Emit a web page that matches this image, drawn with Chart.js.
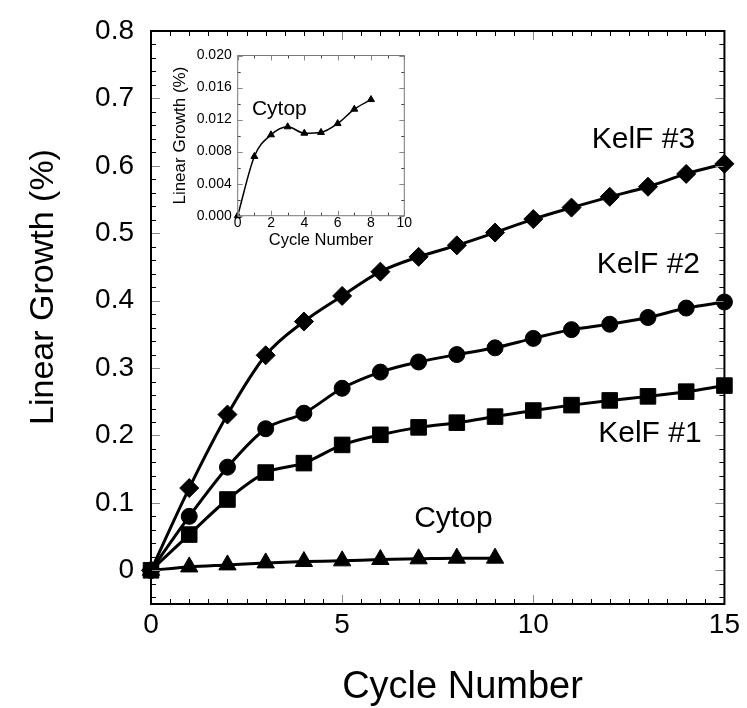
<!DOCTYPE html>
<html><head><meta charset="utf-8">
<script src="https://cdn.jsdelivr.net/npm/chart.js@4/dist/chart.umd.min.js"></script>
<style>
html,body{margin:0;padding:0;background:#fff;}
#wrap{position:relative;width:747px;height:708px;overflow:hidden;}
#main{position:absolute;left:0;top:0;}
#inset{position:absolute;left:160px;top:42px;}
</style></head><body>
<div id="wrap"><canvas id="main" width="747" height="708"></canvas><canvas id="inset" width="256" height="210"></canvas></div>
<script>
// ---------- data ----------
const cycles = [0,1,2,3,4,5,6,7,8,9,10,11,12,13,14,15];
const kelf3 = [0,0.122,0.231,0.319,0.369,0.407,0.443,0.465,0.482,0.501,0.521,0.538,0.554,0.569,0.588,0.603];
const kelf2 = [0,0.080,0.153,0.210,0.233,0.270,0.294,0.309,0.320,0.330,0.344,0.357,0.365,0.375,0.389,0.398];
const kelf1 = [0,0.053,0.105,0.145,0.159,0.186,0.201,0.212,0.219,0.228,0.237,0.245,0.252,0.258,0.265,0.274];
const cytopCycles = [0,1,2,3,4,5,6,7,8,9];
const cytop = [0,0.005,0.008,0.011,0.013,0.014,0.016,0.017,0.018,0.018];
const insetCycles = [0,1,2,3,4,5,6,7,8];
const insetCytop = [0,0.0074,0.0101,0.0111,0.0103,0.0104,0.0115,0.0133,0.0145];
const seriesNames = ['KelF #3','KelF #2','KelF #1','Cytop'];

const xTicks = [0,5,10,15];
const xTickLabels = ['0','5','10','15'];
const yTicks = [0,0.1,0.2,0.3,0.4,0.5,0.6,0.7,0.8];
const yTickLabels = ['0','0.1','0.2','0.3','0.4','0.5','0.6','0.7','0.8'];
const insetXTicks = [0,2,4,6,8,10];
const insetXTickLabels = ['0','2','4','6','8','10'];
const insetYTicks = [0,0.004,0.008,0.012,0.016,0.020];
const insetYTickLabels = ['0.000','0.004','0.008','0.012','0.016','0.020'];

const xTitle = 'Cycle Number';
const yTitle = 'Linear Growth (%)';

// ---------- helpers ----------
const FONT = '"Liberation Sans", Arial, Helvetica, sans-serif';
Chart.defaults.font.family = FONT;
Chart.defaults.color = '#000';

function minorList(min, max, step, majors) {
  const out = [];
  const n = Math.round((max - min) / step);
  for (let i = 0; i <= n; i++) {
    const v = +(min + i * step).toFixed(6);
    if (!majors.some(m => Math.abs(m - v) < 1e-9)) out.push(v);
  }
  return out;
}

const frameTicks = {
  id: 'frameTicks',
  afterDatasetsDraw(chart, args, o) {
    const {ctx, chartArea: a, scales: {x, y}} = chart;
    ctx.save();
    ctx.lineCap = 'butt';
    const seg = (x1, y1, x2, y2) => { ctx.beginPath(); ctx.moveTo(x1, y1); ctx.lineTo(x2, y2); ctx.stroke(); };
    const drawX = (vals, len, color, w) => {
      ctx.strokeStyle = color; ctx.lineWidth = w;
      vals.forEach(v => { const p = Math.round(x.getPixelForValue(v)) + 0.5;
        seg(p, a.bottom, p, a.bottom - len); seg(p, a.top, p, a.top + len); });
    };
    const drawY = (vals, len, color, w) => {
      ctx.strokeStyle = color; ctx.lineWidth = w;
      vals.forEach(v => { const p = Math.round(y.getPixelForValue(v)) + 0.5;
        seg(a.left, p, a.left + len, p); seg(a.right, p, a.right - len, p); });
    };
    drawX(o.xMinor, o.minorLen, o.minorColor, 1);
    drawX(o.xMajor, o.majorLen, o.majorColor, 1);
    drawY(o.yMinor, o.minorLen, o.minorColor, 1);
    drawY(o.yMajor, o.majorLen, o.majorColor, 1);
    ctx.strokeStyle = o.frameColor; ctx.lineWidth = o.frameWidth;
    ctx.strokeRect(a.left, a.top, a.right - a.left, a.bottom - a.top);
    // text labels
    (o.labels || []).forEach(l => {
      ctx.save();
      ctx.fillStyle = '#000';
      ctx.font = l.size + 'px ' + FONT;
      ctx.textAlign = 'center';
      ctx.textBaseline = 'middle';
      let px, py;
      if (l.data) { px = x.getPixelForValue(l.x); py = y.getPixelForValue(l.y); }
      else { px = l.x; py = l.y; }
      ctx.translate(px, py);
      if (l.rot) ctx.rotate(l.rot);
      ctx.fillText(l.text, 0, 0);
      ctx.restore();
    });
    ctx.restore();
  }
};

function series(label, xs, ys, style, radius, lw) {
  return {
    label, data: xs.map((c, i) => ({x: c, y: ys[i]})),
    borderColor: '#000', backgroundColor: '#000', borderWidth: lw,
    pointStyle: style, pointRadius: radius, pointBorderWidth: 1,
    pointBackgroundColor: '#000', pointBorderColor: '#000',
    cubicInterpolationMode: 'monotone', tension: 0.4, clip: false, fill: false
  };
}

// ---------- main chart ----------
new Chart(document.getElementById('main'), {
  type: 'line',
  data: {
    datasets: [
      series(seriesNames[0], cycles, kelf3, 'rectRot', 9.5, 3),
      series(seriesNames[1], cycles, kelf2, 'circle', 8, 3),
      series(seriesNames[2], cycles, kelf1, 'rect', 11, 3),
      series(seriesNames[3], cytopCycles, cytop, 'triangle', 10, 3)
    ]
  },
  options: {
    responsive: false, animation: false, devicePixelRatio: 1,
    layout: {padding: {left: 0, right: 19.5, top: 30, bottom: 0}},
    plugins: {
      legend: {display: false}, tooltip: {enabled: false},
      frameTicks: {
        xMajor: xTicks, xMinor: minorList(0, 15, 0.5, xTicks),
        yMajor: yTicks, yMinor: minorList(-0.04, 0.78, 0.02, yTicks),
        majorLen: 9, minorLen: 5, majorColor: '#8a8a8a', minorColor: '#000',
        frameColor: '#000', frameWidth: 2,
        labels: [
          {text: seriesNames[0], x: 12.88, y: 0.638, size: 30, data: true},
          {text: seriesNames[1], x: 13.01, y: 0.453, size: 30, data: true},
          {text: seriesNames[2], x: 13.05, y: 0.203, size: 30, data: true},
          {text: seriesNames[3], x: 7.91, y: 0.076, size: 30, data: true},
          {text: xTitle, x: 462.5, y: 688, size: 38},
          {text: yTitle, x: 44, y: 287, size: 34, rot: -Math.PI / 2}
        ]
      }
    },
    scales: {
      x: {
        type: 'linear', min: 0, max: 15,
        afterBuildTicks: s => { s.ticks = xTicks.map(v => ({value: v})); },
        afterFit: s => { s.height = 104; },
        ticks: {callback: (v, i) => xTickLabels[i], font: {size: 28, lineHeight: 1}, padding: 7, maxRotation: 0, autoSkip: false},
        grid: {display: false, drawTicks: false}, border: {display: false}
      },
      y: {
        type: 'linear', min: -0.05, max: 0.8,
        afterBuildTicks: s => { s.ticks = yTicks.map(v => ({value: v})); },
        afterFit: s => { s.width = 151; },
        ticks: {callback: (v, i) => yTickLabels[i], font: {size: 28, lineHeight: 1}, padding: 17, autoSkip: false},
        grid: {display: false, drawTicks: false}, border: {display: false}
      }
    }
  },
  plugins: [frameTicks]
});

// ---------- inset chart ----------
new Chart(document.getElementById('inset'), {
  type: 'line',
  data: {
    datasets: [series(seriesNames[3], insetCycles, insetCytop, 'triangle', 4, 1.5)]
  },
  options: {
    responsive: false, animation: false, devicePixelRatio: 1,
    layout: {padding: {left: 0, right: 11.7, top: 13.5, bottom: 0}},
    plugins: {
      legend: {display: false}, tooltip: {enabled: false},
      frameTicks: {
        xMajor: insetXTicks, xMinor: minorList(0, 10, 1, insetXTicks),
        yMajor: insetYTicks, yMinor: minorList(0, 0.02, 0.002, insetYTicks),
        majorLen: 5, minorLen: 3, majorColor: '#888', minorColor: '#444',
        frameColor: '#777', frameWidth: 1,
        labels: [
          {text: seriesNames[3], x: 2.5, y: 0.0133, size: 21, data: true}
        ]
      }
    },
    scales: {
      x: {
        type: 'linear', min: 0, max: 10,
        afterBuildTicks: s => { s.ticks = insetXTicks.map(v => ({value: v})); },
        afterFit: s => { s.height = 36.3; },
        ticks: {callback: (v, i) => insetXTickLabels[i], font: {size: 14, lineHeight: 1}, padding: 0, maxRotation: 0, autoSkip: false},
        title: {display: true, text: xTitle, font: {size: 16.5, lineHeight: 1}, padding: {top: 0, bottom: 3}},
        grid: {display: false, drawTicks: false}, border: {display: false}
      },
      y: {
        type: 'linear', min: 0, max: 0.02,
        afterBuildTicks: s => { s.ticks = insetYTicks.map(v => ({value: v})); },
        afterFit: s => { s.width = 77.7; },
        ticks: {callback: (v, i) => insetYTickLabels[i], font: {size: 14, lineHeight: 1}, padding: 6, autoSkip: false},
        title: {display: true, text: yTitle, font: {size: 17, lineHeight: 1}, padding: {top: 11.5, bottom: 0}},
        grid: {display: false, drawTicks: false}, border: {display: false}
      }
    }
  },
  plugins: [frameTicks]
});
</script>
</body></html>
